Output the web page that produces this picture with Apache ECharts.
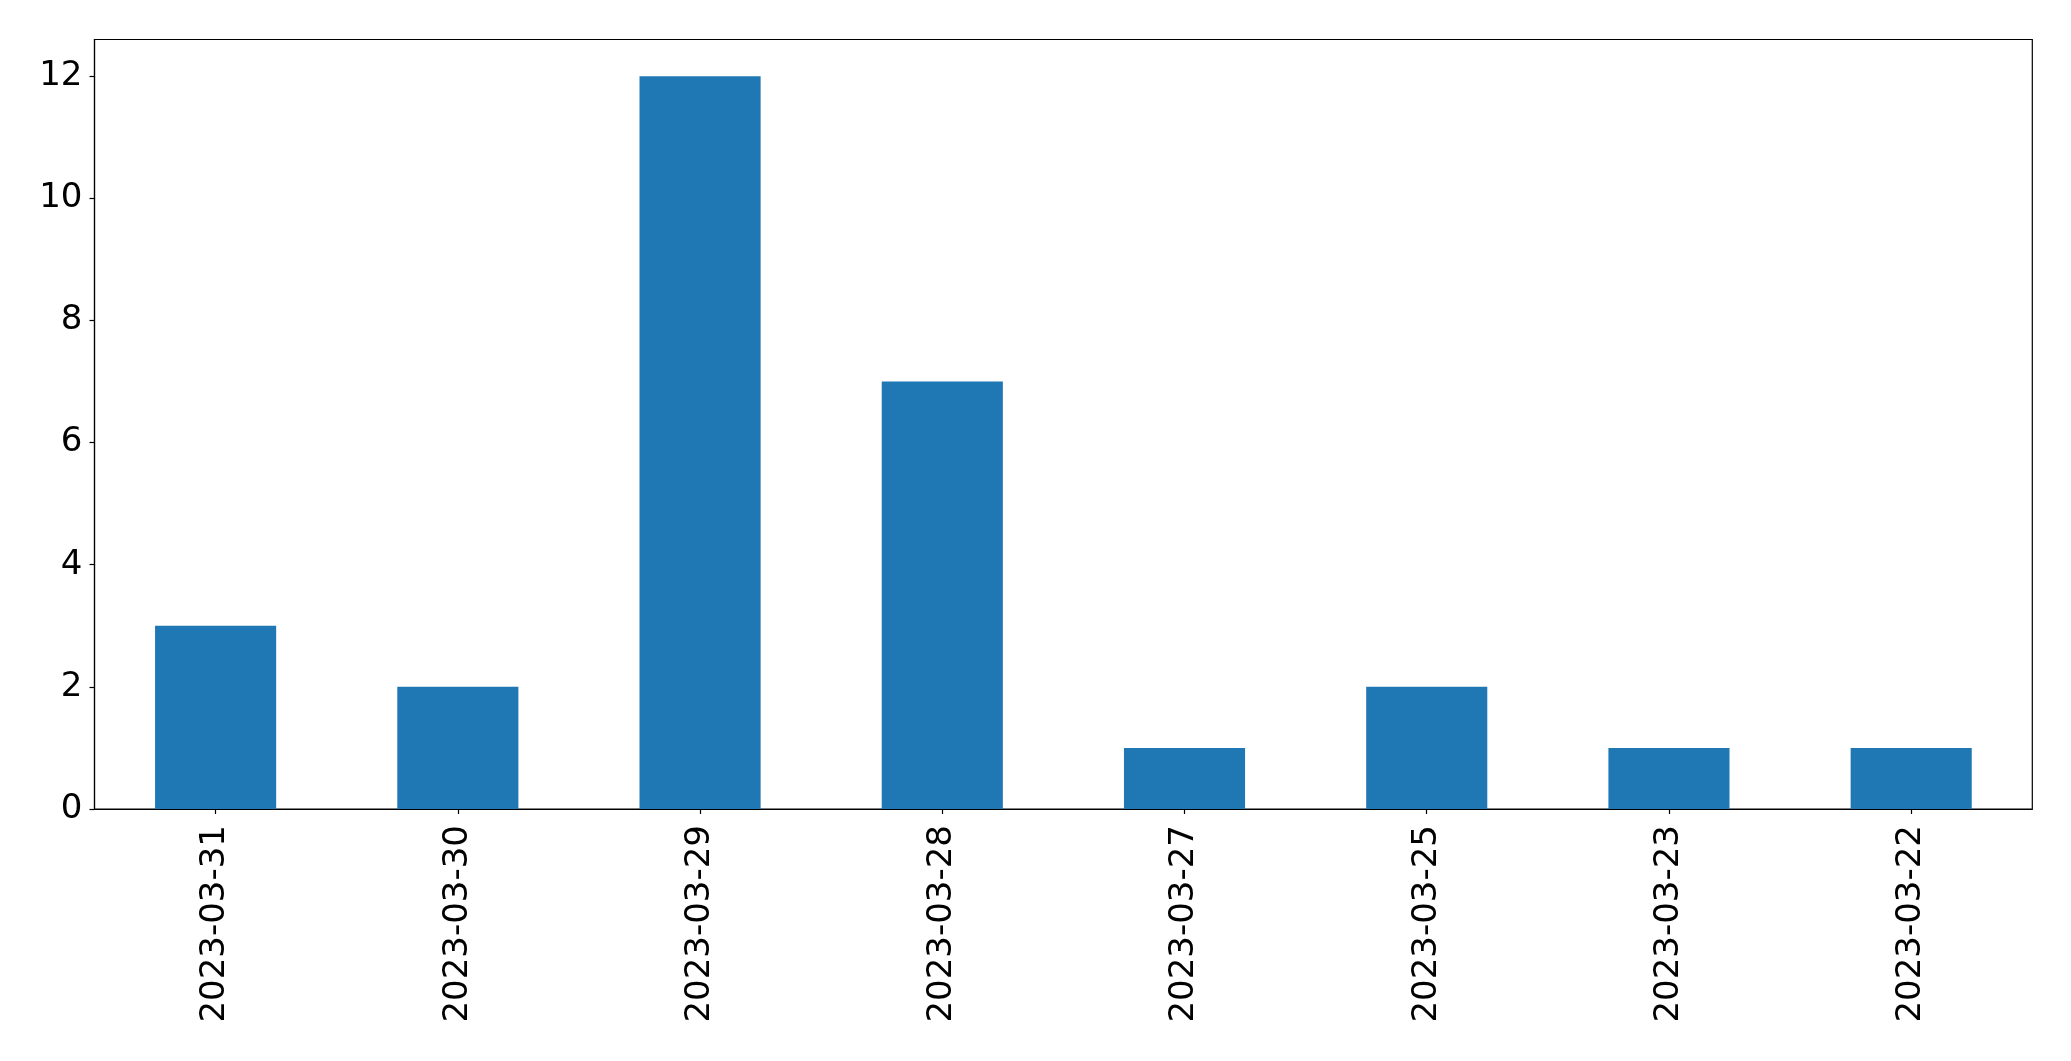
<!DOCTYPE html>
<html>
<head>
<meta charset="utf-8">
<script src="https://cdn.jsdelivr.net/npm/echarts@6/dist/echarts.min.js"></script>
<style>html,body{margin:0;padding:0;background:#fff;}#c{width:2071px;height:1061px;}</style>
</head>
<body>
<div id="c"></div>
<script>
const categories = ['2023-03-31','2023-03-30','2023-03-29','2023-03-28','2023-03-27','2023-03-25','2023-03-23','2023-03-22'];
const values = [3, 2, 12, 7, 1, 2, 1, 1];
const yTicks = [0, 2, 4, 6, 8, 10, 12];
const yMax = 12.6;

const chart = echarts.init(document.getElementById('c'), null, {renderer: 'canvas'});
chart.setOption({
  animation: false,
  backgroundColor: '#fff',
  grid: {left: 94.5, right: 38.7, top: 39.5, bottom: 252, show: true, borderColor: '#000', borderWidth: 1.2, containLabel: false},
  xAxis: {
    type: 'category',
    data: categories,
    boundaryGap: true,
    axisLine: {show: true, lineStyle: {color: '#000', width: 1.2}},
    axisTick: {show: true, alignWithLabel: true, length: 5, lineStyle: {color: '#000', width: 1.2}},
    axisLabel: {rotate: 90, margin: 16, color: '#000', fontSize: 34, fontFamily: 'DejaVu Sans', interval: 0},
    splitLine: {show: false}
  },
  yAxis: {
    type: 'value',
    min: 0,
    max: yMax,
    interval: 2,
    axisLine: {show: true, lineStyle: {color: '#000', width: 1.2}},
    axisTick: {show: true, length: 5, customValues: yTicks, lineStyle: {color: '#000', width: 1.2}},
    axisLabel: {margin: 12, color: '#000', fontSize: 34, fontFamily: 'DejaVu Sans', customValues: yTicks},
    splitLine: {show: false}
  },
  series: [{
    type: 'bar',
    data: values,
    barWidth: '50%',
    itemStyle: {color: '#1f77b4'}
  }]
});
</script>
</body>
</html>
